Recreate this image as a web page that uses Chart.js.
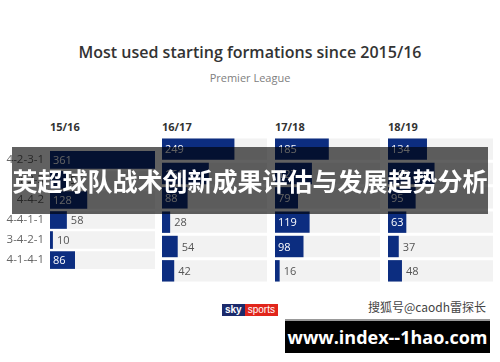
<!DOCTYPE html>
<html>
<head>
<meta charset="utf-8">
<script src="https://cdn.jsdelivr.net/npm/chart.js@4"></script>
<style>
  body { margin:0; background:#fff; }
  #wrap { position:relative; width:500px; height:362px; overflow:hidden; background:#fff; font-family:"Open Sans", sans-serif; }
  .abs { position:absolute; }
  #title { left:0; width:500px; top:41px; text-align:center; font-size:16px; font-weight:600; color:#333; }
  #sub { left:0; width:500px; top:70px; text-align:center; font-size:11px; color:#808080; }
  .season { top:119px; font-size:11px; font-weight:700; color:#333; }
  canvas.abs { top:137px; }
  #banner { left:12px; top:147px; width:476px; height:67px; background:rgba(0,0,0,0.62); color:#fff;
    font-family:"Noto Sans CJK SC", sans-serif; font-weight:700; font-size:25px; line-height:67px; text-align:center; z-index:5; white-space:nowrap; }
  #sky { left:222px; top:304px; height:12px; font-size:10px; line-height:12px; font-weight:700; font-family:Arial, "Liberation Sans", sans-serif; }
  #sky span { display:inline-block; height:12px; padding:0 3px; color:#fff; }
  #sohu { left:368px; top:298px; font-size:12px; color:#444; font-family:"Noto Sans CJK SC", sans-serif; }
  #site { left:285px; top:319px; width:205px; height:34px; background:#000; color:#fff; font-weight:700; font-size:18px;
    line-height:32px; text-align:center; border-top:2px solid #999; box-sizing:border-box; font-family:"Open Sans", sans-serif; }
</style>
</head>
<body>
<div id="wrap">
  <div id="title" class="abs">Most used starting formations since 2015/16</div>
  <div id="sub" class="abs">Premier League</div>
  <div class="abs season" style="left:50px">15/16</div>
  <div class="abs season" style="left:162px">16/17</div>
  <div class="abs season" style="left:275px">17/18</div>
  <div class="abs season" style="left:388px">18/19</div>
  <canvas id="c0" class="abs" width="155" height="146" style="left:0px"></canvas>
  <canvas id="c1" class="abs" width="105" height="146" style="left:162px"></canvas>
  <canvas id="c2" class="abs" width="105" height="146" style="left:275px"></canvas>
  <canvas id="c3" class="abs" width="105" height="146" style="left:388px"></canvas>
  <div id="banner" class="abs">英超球队战术创新成果评估与发展趋势分析</div>
  <div id="sky" class="abs"><span style="background:#1b2a6b">sky</span><span style="background:#e1251b;font-weight:400">sports</span></div>
  <div id="sohu" class="abs">搜狐号@caodh雷探长</div>
  <div id="site" class="abs">www.index--1hao.com</div>
</div>
<script>
const seasons = ['15/16', '16/17', '17/18', '18/19'];
const formations = ['4-2-3-1', '4-3-3', '4-4-2', '4-4-1-1', '3-4-2-1', '4-1-4-1'];
const s1516 = [361, 56, 128, 58, 10, 86];
const s1617 = [249, 161, 88, 28, 54, 42];
const s1718 = [185, 127, 79, 119, 98, 16];
const s1819 = [134, 160, 95, 63, 37, 48];
const scaleMax = 361;

const allSeries = [s1516, s1617, s1718, s1819];

// numbers inside (white) or next to the bar (grey)
const valueLabels = {
  id: 'valueLabels',
  afterDatasetsDraw(chart) {
    const ctx = chart.ctx;
    const meta = chart.getDatasetMeta(0);
    const vals = chart.data.datasets[0].data;
    ctx.save();
    ctx.font = '11px "Open Sans", sans-serif';
    ctx.textBaseline = 'middle';
    ctx.textAlign = 'left';
    meta.data.forEach((bar, i) => {
      const v = vals[i];
      if (v >= 60) {
        ctx.fillStyle = '#ffffff';
        ctx.fillText(v, bar.base + 3, bar.y + 1);
      } else {
        ctx.fillStyle = '#555555';
        ctx.fillText(v, bar.x + 4, bar.y + 1);
      }
    });
    ctx.restore();
  }
};

allSeries.forEach((vals, k) => {
  const first = k === 0;
  new Chart(document.getElementById('c' + k), {
    type: 'bar',
    data: {
      labels: formations,
      datasets: [
        {
          label: seasons[k],
          data: vals,
          backgroundColor: '#0c2d80',
          grouped: false,
          barPercentage: 0.88,
          categoryPercentage: 1
        },
        {
          label: 'band',
          data: formations.map(() => scaleMax),
          backgroundColor: '#f2f2f2',
          grouped: false,
          barPercentage: 0.88,
          categoryPercentage: 1
        }
      ]
    },
    options: {
      indexAxis: 'y',
      responsive: false,
      animation: false,
      layout: { padding: 0 },
      plugins: { legend: { display: false }, tooltip: { enabled: false }, title: { display: false } },
      scales: {
        x: { display: false, min: 0, max: scaleMax },
        y: {
          display: first,
          grid: { display: false, drawTicks: false },
          border: { display: false },
          ticks: { color: '#666', font: { family: 'Open Sans', size: 11.5 }, padding: 6, autoSkip: false },
          afterFit: (s) => { if (first) s.width = 50; }
        }
      }
    },
    plugins: [valueLabels]
  });
});
</script>
</body>
</html>
